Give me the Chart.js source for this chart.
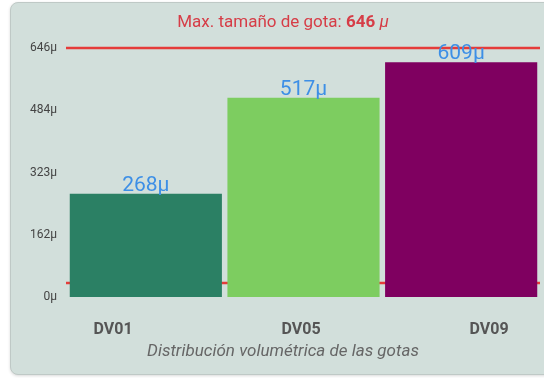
<!DOCTYPE html>
<html lang="es">
<head>
<meta charset="utf-8">
<title>Distribución volumétrica de las gotas</title>
<script src="https://cdn.jsdelivr.net/npm/chart.js@4/dist/chart.umd.min.js"></script>
<style>
  html, body { margin: 0; padding: 0; background: #fff; }
  .tarjeta {
    position: absolute; left: 10px; top: 2px; width: 560px; height: 371px;
    background: #d2dfdb; border: 1px solid #bfc9c6; border-radius: 8px;
    box-shadow: 0 1px 3px rgba(0,0,0,0.15);
  }
  .grafico { position: absolute; left: 0; top: 0; width: 544px; height: 378px; }
</style>
</head>
<body>
<div class="tarjeta"></div>
<div class="grafico"><canvas id="chart-gotas"></canvas></div>
<script>
// datos de la distribución
const categorias = ['DV01', 'DV05', 'DV09'];
const valores = [268, 517, 609];
const coloresBarras = ['#2b8064', '#7dcd60', '#7f0060'];
const maxGota = 646;
const minGota = 36;
const ticksY = [0, 161.5, 323, 484.5, 646];
const etiquetasY = ['0μ', '162μ', '323μ', '484μ', '646μ'];
const posicionesX = [1, 2, 3];
const tituloEje = 'Distribución volumétrica de las gotas';

const rojo = '#e53c3a';

// líneas de máximo y mínimo, detrás de las barras
const lineasLimite = {
    id: 'lineasLimite',
    beforeDatasetsDraw(chart) {
        const { ctx, chartArea, scales } = chart;
        ctx.save();
        ctx.strokeStyle = rojo;
        ctx.lineWidth = 2.5;
        [maxGota, minGota].forEach(v => {
            const y = scales.y.getPixelForValue(v);
            ctx.beginPath();
            ctx.moveTo(chartArea.left - 1, y);
            ctx.lineTo(chartArea.right, y);
            ctx.stroke();
        });
        ctx.restore();
    }
};

// valor encima de cada barra, título y título del eje
const etiquetas = {
    id: 'etiquetas',
    afterDatasetsDraw(chart) {
        const { ctx } = chart;
        ctx.save();
        ctx.font = '21px Roboto';
        ctx.fillStyle = '#3d8fe6';
        ctx.textAlign = 'center';
        ctx.textBaseline = 'alphabetic';
        chart.getDatasetMeta(0).data.forEach((bar, i) => {
            ctx.fillText(valores[i] + 'μ', bar.x, bar.y - 3);
        });

        ctx.font = 'italic 17px Roboto';
        ctx.fillStyle = '#666';
        ctx.textBaseline = 'middle';
        ctx.fillText(tituloEje, 283, 352);

        // título con partes en negrita / cursiva
        const partes = [
            { t: 'Max. tamaño de gota: ', f: '17px Roboto' },
            { t: String(maxGota), f: 'bold 17px Roboto' },
            { t: ' ', f: 'bold 17px Roboto' },
            { t: 'μ', f: 'italic 17px Roboto' }
        ];
        let ancho = 0;
        partes.forEach(p => { ctx.font = p.f; ancho += ctx.measureText(p.t).width; });
        let x = 283 - ancho / 2;
        ctx.fillStyle = '#d63d47';
        ctx.textAlign = 'left';
        partes.forEach(p => {
            ctx.font = p.f;
            ctx.fillText(p.t, x, 23);
            x += ctx.measureText(p.t).width;
        });
        ctx.restore();
    }
};

new Chart(document.getElementById('chart-gotas'), {
    type: 'bar',
    data: {
        labels: categorias,
        datasets: [{
            data: valores,
            backgroundColor: coloresBarras,
            barPercentage: 0.965,
            categoryPercentage: 1
        }]
    },
    options: {
        responsive: true,
        maintainAspectRatio: false,
        animation: false,
        layout: { padding: { top: 48, right: 4, bottom: 4, left: 0 } },
        plugins: { legend: { display: false }, tooltip: { enabled: false } },
        scales: {
            x: { display: false },
            xl: {
                type: 'linear',
                position: 'bottom',
                offset: false,
                min: 0.755,
                max: 3.271,
                grid: { display: false },
                border: { display: false },
                afterBuildTicks: s => { s.ticks = posicionesX.map(v => ({ value: v })); },
                afterFit: s => { s.height = 77; },
                ticks: {
                    padding: 15,
                    color: '#555',
                    font: { family: 'Roboto', size: 16, weight: 'bold' },
                    callback: v => categorias[v - 1]
                }
            },
            y: {
                min: 0,
                max: maxGota,
                grid: { display: false },
                border: { display: false },
                afterBuildTicks: s => { s.ticks = ticksY.map(v => ({ value: v })); },
                afterFit: s => { s.width = 67; },
                ticks: {
                    padding: 2,
                    color: '#444',
                    font: { family: 'Roboto', size: 12 },
                    callback: (v, i) => etiquetasY[i]
                }
            }
        }
    },
    plugins: [lineasLimite, etiquetas]
});
</script>
</body>
</html>
